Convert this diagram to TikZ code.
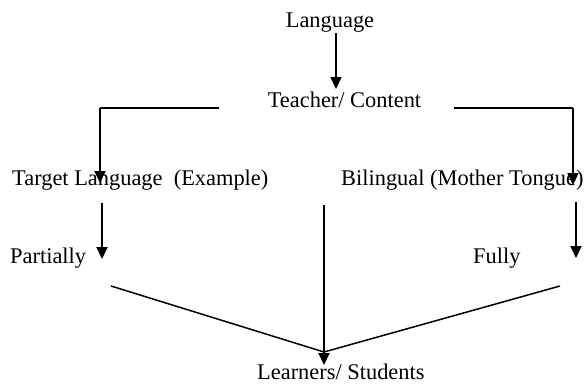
\documentclass[tikz,border=0pt]{standalone}
\usepackage{fontspec}
\setmainfont{Liberation Serif}
\usetikzlibrary{arrows.meta}
\tikzset{
  lbl/.style={anchor=base,inner sep=0pt,font=\fontsize{22.4}{26}\selectfont},
  arr/.style={line width=2pt,-{Triangle[length=12pt,width=11pt]}},
  thinline/.style={line width=1.5pt},
}

\begin{document}
\begin{tikzpicture}[x=1pt,y=-1pt]
      \useasboundingbox (0,0) rectangle (587,384);
      \node [lbl] (lang) at (330,27) {Language};
      \node [lbl] (teacher) at (344.5,107) {Teacher/ Content};
      \node [lbl,anchor=base west] (target) at (12,185) {Target Language\ \ (Example)};
      \node [lbl,anchor=base west] (biling) at (341,185) {Bilingual (Mother Tongue)};
      \node [lbl,anchor=base west] (partial) at (10,263) {Partially};
      \node [lbl,anchor=base west] (fully) at (473,263) {Fully};
      \node [lbl,anchor=base west] (learn) at (257,379) {Learners/ Students};
      \coordinate (ls) at (336,33);
      \coordinate (tn) at (336,89);
      \coordinate (lt) at (219,108);
      \coordinate (lc) at (100,108);
      \coordinate (tl) at (100,183);
      \coordinate (rt) at (454,108);
      \coordinate (rc) at (573,108);
      \coordinate (bl) at (573,185);
      \coordinate (pa) at (102,203);
      \coordinate (pb) at (102,259);
      \coordinate (ma) at (324,205);
      \coordinate (mb) at (324,365);
      \coordinate (fa) at (576,202);
      \coordinate (fb) at (576,258);
      \coordinate (meet) at (324,352);
      \coordinate (pl) at (111,286);
      \coordinate (pr) at (560,286);
      \draw[arr] (ls)--(tn);
      \draw[thinline] (lt)--(lc);
      \draw[arr] (lc)--(tl);
      \draw[thinline] (rt)--(rc);
      \draw[arr] (rc)--(bl);
      \draw[arr] (pa)--(pb);
      \draw[arr] (ma)--(mb);
      \draw[arr] (fa)--(fb);
      \draw[thinline] (pl)--(meet);
      \draw[thinline] (pr)--(meet);
\end{tikzpicture}
\end{document}
